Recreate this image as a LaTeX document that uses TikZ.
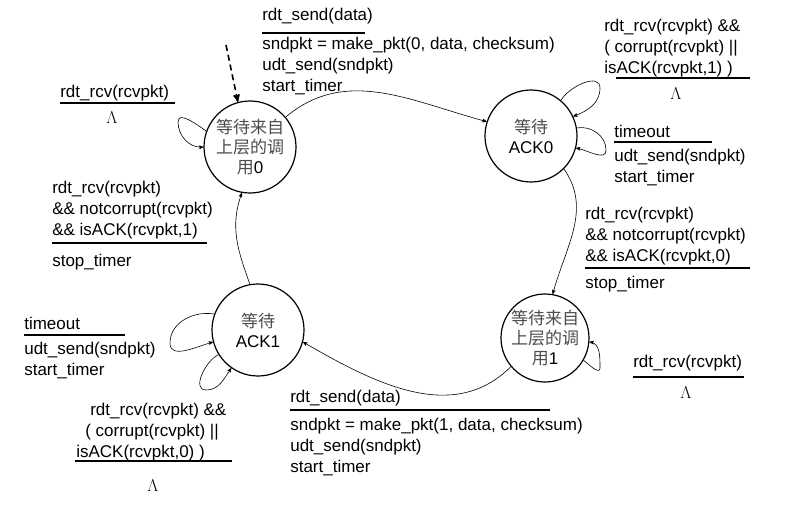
\documentclass[tikz,border=0pt]{standalone}
\usepackage{fontspec}
\setmainfont{Liberation Sans}
\newfontfamily\cjk{Noto Sans CJK SC}
\usetikzlibrary{arrows}
\begin{document}
\begin{tikzpicture}[x=1pt,y=-1pt,->,>=stealth',semithick,
    state/.style={circle,draw,line width=1.2pt,minimum size=92pt,inner sep=0pt,align=center,font=\fontsize{17}{20}\selectfont},
    lbl/.style={anchor=north west,align=left,inner sep=0pt,font=\fontsize{17}{21}\selectfont},
    bar/.style={-,line width=1.6pt},
    lam/.style={font=\rmfamily\fontsize{17}{17}\selectfont}]
  \useasboundingbox (0,0) rectangle (806,508);

  \node[state] (w0) at (250,147) {{\cjk\color{black!70}等待来自}\\{\cjk\color{black!70}上层的调}\\{\cjk\color{black!70}用}0};
  \node[state] (a0) at (531,136) {{\cjk\color{black!70}等待}\\ACK0};
  \node[state,minimum size=88pt] (w1) at (545,338) {{\cjk\color{black!70}等待来自}\\{\cjk\color{black!70}上层的调}\\{\cjk\color{black!70}用}1};
  \node[state] (a1) at (258,330) {{\cjk\color{black!70}等待}\\ACK1};

  % transitions
  \coordinate (st) at (226,45);
  \draw[dashed,line width=1.6pt,dash pattern=on 6pt off 4pt] (st) -- (w0.105);
  \draw (w0.40) to[out=40,in=165] (a0.162);
  \draw (a0.-45) to[out=-55,in=75] (w1.80);
  \draw (w1.-140) to[out=-135,in=-30] (a1.-15);
  \draw (a1.100) to[out=110,in=-110] (w0.-100);
  \draw (w0.160) to[out=145,in=90] (178,122) to[out=-90,in=185] (w0.180);
  \draw (a0.50) to[out=60,in=90] (600,88) to[out=-90,in=20] (a0.25);
  \draw (a0.10) to[out=10,in=90] (606,150) to[out=-90,in=-10] (a0.-15);
  \draw (w1.-30) to[out=-40,in=-90] (600,368) to[out=90,in=-10] (w1.-5);
  \draw (a1.160) to[out=170,in=90] (170,343) to[out=-90,in=195] (a1.195);
  \draw (a1.212) to[out=205,in=180] (206,390) to[out=0,in=235] (a1.235);

  % labels
  \node[lbl] (l1) at (262,8) {rdt\_send(data)};
  \node[lbl] (l1b) at (262,37) {sndpkt = make\_pkt(0, data, checksum)\\udt\_send(sndpkt)\\start\_timer};
  \draw[bar] (262,33) -- (365,33);
  \node[lbl] (l2) at (604,19) {rdt\_rcv(rcvpkt) \&\&\\( corrupt(rcvpkt) \textbar\textbar\\isACK(rcvpkt,1) )};
  \draw[bar] (616,78) -- (750,78);
  \node[lam] (l2l) at (676,94) {$\Lambda$};
  \node[lbl] (l3) at (614,125) {timeout};
  \draw[bar] (614,142) -- (712,142);
  \node[lbl] (l3b) at (614,149) {udt\_send(sndpkt)\\start\_timer};
  \node[lbl] (l4) at (585,207) {rdt\_rcv(rcvpkt)\\\&\& notcorrupt(rcvpkt)\\\&\& isACK(rcvpkt,0)};
  \draw[bar] (585,268) -- (750,268);
  \node[lbl] (l4b) at (585,276) {stop\_timer};
  \node[lbl] (l5) at (633,355) {rdt\_rcv(rcvpkt)};
  \draw[bar] (633,377) -- (744,377);
  \node[lam] (l5l) at (686,393) {$\Lambda$};
  \node[lbl] (l6) at (290,390) {rdt\_send(data)};
  \draw[bar] (290,410) -- (550,410);
  \node[lbl] (l6b) at (290,418) {sndpkt = make\_pkt(1, data, checksum)\\udt\_send(sndpkt)\\start\_timer};
  \node[lbl] (l7) at (76,403) {\hspace*{14pt}rdt\_rcv(rcvpkt) \&\&\\\hspace*{9pt}( corrupt(rcvpkt) \textbar\textbar\\isACK(rcvpkt,0) )};
  \draw[bar] (75,461) -- (232,461);
  \node[lam] (l7l) at (153,486) {$\Lambda$};
  \node[lbl] (l8) at (24,317) {timeout};
  \draw[bar] (24,335) -- (125,335);
  \node[lbl] (l8b) at (24,342) {udt\_send(sndpkt)\\start\_timer};
  \node[lbl] (l9) at (52,181) {rdt\_rcv(rcvpkt)\\\&\& notcorrupt(rcvpkt)\\\&\& isACK(rcvpkt,1)};
  \draw[bar] (52,243) -- (207,243);
  \node[lbl] (l9b) at (52,254) {stop\_timer};
  \node[lbl] (l10) at (60,85) {rdt\_rcv(rcvpkt)};
  \draw[bar] (60,103) -- (175,103);
  \node[lam] (l10l) at (112,118) {$\Lambda$};
\end{tikzpicture}
\end{document}
